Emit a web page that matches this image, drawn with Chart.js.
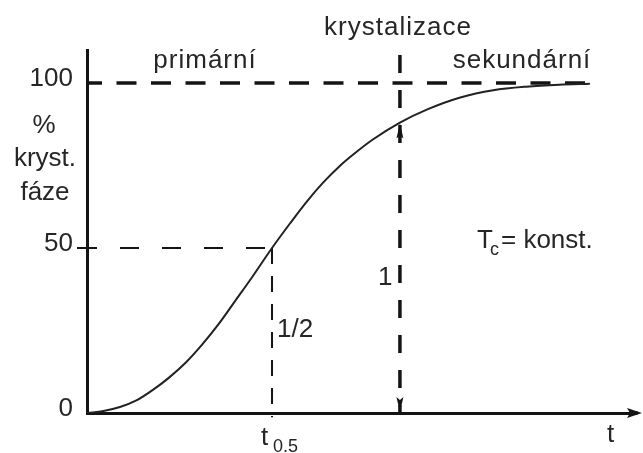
<!DOCTYPE html>
<html>
<head>
<meta charset="utf-8">
<script src="https://cdn.jsdelivr.net/npm/chart.js@4.4.1/dist/chart.umd.min.js"></script>
<style>
html,body{margin:0;padding:0;background:#fff;}
#c{display:block;}
</style>
</head>
<body>
<canvas id="c" width="643" height="453"></canvas>
<script>
// ---- data ----
const curveT   = [0, 0.3, 0.6, 0.9, 1.2, 1.5, 1.8, 2.1, 2.4, 2.7, 3.0, 3.37, 3.7, 4.0, 4.3, 4.6, 4.9, 5.2, 5.7, 6.2, 6.8, 7.4, 8.0, 8.6, 9.16];
const curvePct = [0, 0.6, 1.8, 3.8, 7.0, 10.8, 15.3, 20.8, 27.0, 34.0, 41.0, 50.0, 57.5, 64.0, 69.8, 74.8, 79.0, 82.8, 88.0, 92.0, 95.6, 97.8, 98.9, 99.5, 99.8];
const yTickValues = [0, 50, 100];
const tHalf = 3.37;        // t0.5
const tKryst = 5.70;       // boundary primární / sekundární
const pctAtKryst = 88.0;   // curve value at tKryst
const fullLevel = 100;
const halfLevel = 50;
const fullLineEnd = 9.2;
const krystTop = 108.5;
const xMax = 10;
const yMax = 110;

const INK = '#141414';
const TXT = '#262626';
const FONT = '"Liberation Sans", Arial, sans-serif';

const curveData = curveT.map((t, i) => ({x: t, y: curvePct[i]}));

const annot = {
  id: 'annot',
  afterDatasetsDraw(chart) {
    const ctx = chart.ctx;
    const xs = chart.scales.x, ys = chart.scales.y;
    const X = v => xs.getPixelForValue(v), Y = v => ys.getPixelForValue(v);
    ctx.save();
    ctx.fillStyle = INK;
    // x-axis arrow head
    const ay = Y(0);
    const ar = chart.chartArea.right;
    ctx.fillRect(ar - 2, ay - 1.5, 4, 3);
    ctx.beginPath();
    ctx.moveTo(ar + 6, ay);
    ctx.lineTo(ar - 9, ay - 5);
    ctx.lineTo(ar - 6, ay);
    ctx.lineTo(ar - 9, ay + 5);
    ctx.closePath();
    ctx.fill();
    // double arrow on the krystalizace line
    const kx = X(tKryst);
    const up = Y(pctAtKryst);
    ctx.beginPath();
    ctx.moveTo(kx, up + 1);
    ctx.lineTo(kx - 3.5, up + 16);
    ctx.lineTo(kx, up + 13);
    ctx.lineTo(kx + 3.5, up + 16);
    ctx.closePath();
    ctx.fill();
    const dn = Y(0) - 1;
    ctx.beginPath();
    ctx.moveTo(kx, dn);
    ctx.lineTo(kx - 3.5, dn - 15);
    ctx.lineTo(kx, dn - 12);
    ctx.lineTo(kx + 3.5, dn - 15);
    ctx.closePath();
    ctx.fill();
    // 50 tick mark (left of axis)
    ctx.fillRect(X(0) - 10, Y(halfLevel) - 1, 10, 2);

    // texts
    ctx.fillStyle = TXT;
    ctx.textBaseline = 'alphabetic';
    const big = '26px ' + FONT, small = '18px ' + FONT;
    const txt = (s, x, y, align, f, ls) => {
      ctx.font = f || big; ctx.textAlign = align || 'left';
      ctx.letterSpacing = ls || '0px';
      ctx.fillText(s, x, y);
    };
    txt('primární', 205, 68, 'center', big, '1px');
    txt('krystalizace', 398, 35, 'center', big, '1px');
    txt('sekundární', 522, 68, 'center', big, '1px');
    txt('%', 44, 133, 'center');
    txt('kryst.', 45, 166, 'center');
    txt('fáze', 45, 200, 'center');
    txt('1/2', X(tHalf) + 5, 337, 'left');
    txt('1', kx - 22, 285, 'left');
    txt('T', 477, 248, 'left');
    txt('c', 490, 255, 'left', small);
    txt('= konst.', 501, 248, 'left');
    txt('t', 607, 442, 'left');
    txt('t', X(tHalf) - 11, 445, 'left');
    txt('0.5', X(tHalf) + 1, 452, 'left', small);
    ctx.restore();
  }
};

new Chart(document.getElementById('c'), {
  type: 'line',
  data: {
    datasets: [
      { data: curveData, borderColor: '#222', borderWidth: 2, pointRadius: 0, cubicInterpolationMode: 'monotone', fill: false },
      { data: [{x: 0, y: fullLevel}, {x: fullLineEnd, y: fullLevel}], borderColor: INK, borderWidth: 3.5, borderDash: [20, 14.5], borderDashOffset: 5, pointRadius: 0, borderCapStyle: 'butt' },
      { data: [{x: 0, y: halfLevel}, {x: tHalf, y: halfLevel}], borderColor: INK, borderWidth: 2, borderDash: [19, 23], borderDashOffset: 9, pointRadius: 0 },
      { data: [{x: tHalf, y: halfLevel}, {x: tHalf, y: -1.3}], borderColor: INK, borderWidth: 2, borderDash: [16, 12], pointRadius: 0, clip: false },
      { data: [{x: tKryst, y: krystTop}, {x: tKryst, y: 0}], borderColor: INK, borderWidth: 3.5, borderDash: [18, 17], pointRadius: 0, clip: false }
    ]
  },
  options: {
    responsive: false,
    animation: false,
    events: [],
    layout: { padding: { top: 50, right: 7, left: 0, bottom: 0 } },
    plugins: { legend: { display: false }, tooltip: { enabled: false } },
    scales: {
      x: {
        type: 'linear', min: 0, max: xMax,
        grid: { display: false },
        border: { display: true, color: INK, width: 3 },
        ticks: { display: false },
        afterFit(s) { s.height = 40; }
      },
      y: {
        type: 'linear', min: 0, max: yMax,
        grid: { display: false },
        border: { display: true, color: INK, width: 3 },
        afterBuildTicks(s) { s.ticks = yTickValues.map(v => ({value: v})); },
        ticks: { color: TXT, font: { size: 26, family: FONT }, padding: 6, labelOffset: -4, callback: v => String(v) },
        afterFit(s) { s.width = 87; }
      }
    }
  },
  plugins: [annot]
});
</script>
</body>
</html>
